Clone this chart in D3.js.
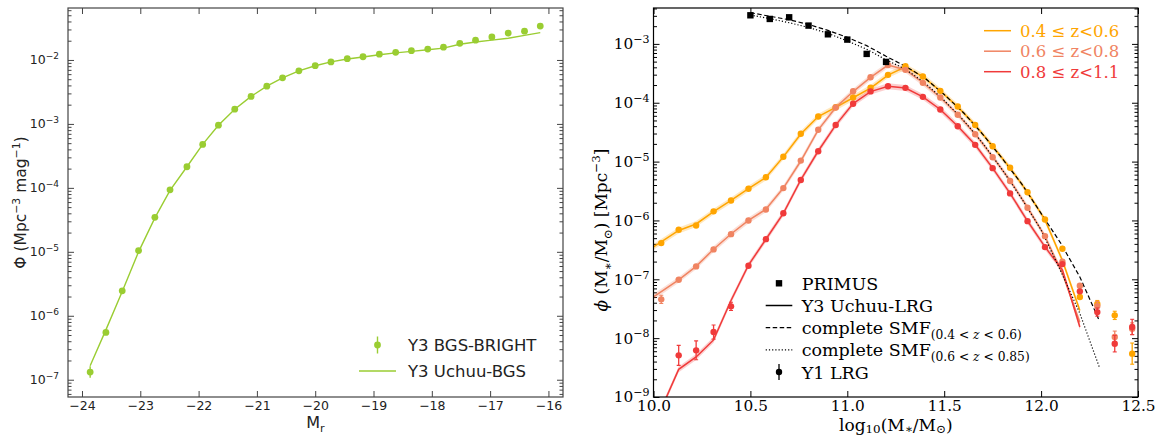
<!DOCTYPE html>
<html>
<head>
<meta charset="utf-8">
<script src="https://cdn.jsdelivr.net/npm/d3@7"></script>
<style>
body{margin:0;background:#fff;}
svg{display:block;}
</style>
</head>
<body>
<div id="main_div"></div>
<script>
let size=[1161,437];
let left={x0:68,x1:563,y0:8,y1:397};
let right={x0:653.5,x1:1138,y0:8,y1:397};
let bgsColor="#9acd32";
let zColors=["#ffa500","#f08462","#f03a3a"];
let zLabels=["0.4 ≤ z<0.6","0.6 ≤ z<0.8","0.8 ≤ z<1.1"];

// left panel: BGS luminosity function (log10 phi)
let mrBins=[-23.86,-23.59,-23.31,-23.03,-22.75,-22.49,-22.20,-21.93,-21.66,-21.38,-21.10,-20.83,-20.56,-20.28,-20.00,-19.73,-19.45,-19.18,-18.90,-18.62,-18.35,-18.07,-17.80,-17.52,-17.25,-16.97,-16.69,-16.41,-16.14];
let bgsLogPhi=[-6.88,-6.26,-5.61,-4.98,-4.46,-4.03,-3.67,-3.32,-3.02,-2.77,-2.57,-2.41,-2.28,-2.17,-2.09,-2.03,-1.98,-1.95,-1.91,-1.88,-1.855,-1.83,-1.80,-1.74,-1.69,-1.64,-1.58,-1.55,-1.47];
let bgsLogErr=[0.09,0.03,0.02,0.01,0.01,0.01,0.01,0.01,0.01,0.01,0.01,0.01,0.01,0.01,0.01,0.01,0.01,0.01,0.01,0.01,0.01,0.01,0.01,0.01,0.01,0.01,0.01,0.01,0.01];
let uchuuBgsLogPhi=[-6.78,-6.22,-5.62,-5.00,-4.47,-4.04,-3.67,-3.32,-3.02,-2.77,-2.57,-2.41,-2.28,-2.17,-2.09,-2.03,-1.985,-1.953,-1.918,-1.89,-1.865,-1.84,-1.815,-1.755,-1.72,-1.69,-1.66,-1.615,-1.573];
let leftXTicks=[-24,-23,-22,-21,-20,-19,-18,-17,-16];
let leftYExps=[-7,-6,-5,-4,-3,-2];

// right panel: LRG stellar mass function (log10 phi)
let lrgMass=[10.04,10.13,10.22,10.31,10.40,10.49,10.58,10.67,10.76,10.85,10.94,11.03,11.12,11.21,11.30,11.39,11.48,11.57,11.66,11.75,11.84,11.93,12.02,12.11,12.20,12.29,12.38,12.47];
let lrgLogPhi04=[-6.385,-6.158,-6.085,-5.845,-5.66,-5.462,-5.265,-4.918,-4.528,-4.234,-4.076,-3.912,-3.745,-3.526,-3.38,-3.555,-3.798,-4.065,-4.377,-4.738,-5.105,-5.52,-5.985,-6.48,-7.30,-7.42,-7.613,-8.263];
let lrgLogPhi06=[-7.341,-7.007,-6.781,-6.492,-6.233,-6.0,-5.815,-5.45,-4.983,-4.46,-4.08,-3.805,-3.567,-3.36,-3.441,-3.662,-3.912,-4.205,-4.535,-4.925,-5.33,-5.785,-6.267,-6.70,-7.109,-7.455,-7.98,-7.84];
let lrgLogPhi08=[null,-8.292,-8.207,-7.896,-7.46,-6.77,-6.318,-5.878,-5.313,-4.823,-4.378,-4.016,-3.807,-3.72,-3.747,-3.9,-4.115,-4.399,-4.715,-5.111,-5.54,-6.012,-6.453,-6.742,-7.205,-7.557,-8.094,-7.81];
let lrgLogErr04=[0.02,0.02,0.02,0.02,0.02,0.02,0.02,0.02,0.02,0.02,0.02,0.02,0.02,0.02,0.02,0.02,0.02,0.02,0.02,0.02,0.02,0.02,0.02,0.03,0.04,0.06,0.07,0.18];
let lrgLogErr06=[0.07,0.02,0.02,0.02,0.02,0.02,0.02,0.02,0.02,0.02,0.02,0.02,0.02,0.02,0.02,0.02,0.02,0.02,0.02,0.02,0.02,0.02,0.02,0.03,0.04,0.08,0.10,0.10];
let lrgLogErr08=[0,0.17,0.16,0.12,0.07,0.02,0.02,0.02,0.02,0.02,0.02,0.02,0.02,0.02,0.02,0.02,0.02,0.02,0.02,0.02,0.02,0.02,0.02,0.03,0.04,0.07,0.14,0.13];
let uchuuMass=[10.0,10.13,10.22,10.31,10.40,10.49,10.58,10.67,10.76,10.85,10.94,11.03,11.12,11.21,11.30,11.39,11.48,11.57,11.66,11.75,11.84,11.93,12.02,12.11,12.20];
let uchuuLogPhi04=[-6.45,-6.17,-6.06,-5.85,-5.66,-5.46,-5.27,-4.92,-4.53,-4.235,-4.08,-3.915,-3.75,-3.53,-3.39,-3.555,-3.80,-4.07,-4.38,-4.74,-5.11,-5.52,-5.99,-6.68,-7.53];
let uchuuLogPhi06=[-7.30,-7.01,-6.78,-6.49,-6.23,-6.00,-5.81,-5.45,-4.99,-4.46,-4.08,-3.81,-3.57,-3.36,-3.44,-3.66,-3.91,-4.20,-4.53,-4.92,-5.32,-5.78,-6.27,-6.90,-7.73];
let uchuuLogPhi08=[-9.5,-8.53,-8.32,-8.03,-7.36,-6.76,-6.32,-5.88,-5.31,-4.82,-4.38,-4.015,-3.81,-3.72,-3.75,-3.90,-4.115,-4.40,-4.715,-5.11,-5.54,-6.01,-6.45,-6.84,-7.81];
let primusMass=[10.5,10.6,10.7,10.8,10.9,11.0,11.1,11.2];
let primusLogPhi=[-2.514,-2.576,-2.548,-2.689,-2.837,-2.927,-3.17,-3.306];
let smfMass=[10.5,10.6,10.7,10.8,10.9,11.0,11.1,11.2,11.3,11.4,11.5,11.6,11.7,11.8,11.9,12.0,12.1,12.2,12.3];
let smfLogPhi04=[-2.47,-2.53,-2.59,-2.67,-2.77,-2.89,-3.03,-3.21,-3.38,-3.58,-3.86,-4.17,-4.54,-4.95,-5.38,-5.88,-6.38,-6.96,-7.70];
let smfLogPhi06=[-2.51,-2.57,-2.64,-2.72,-2.82,-2.95,-3.09,-3.27,-3.43,-3.66,-3.96,-4.30,-4.69,-5.14,-5.63,-6.16,-6.85,-7.58,-8.49];
let rightXTicks=[10.0,10.5,11.0,11.5,12.0,12.5];
let rightYExps=[-9,-8,-7,-6,-5,-4,-3];

let xL,yL,xR,yR,svg;

render();

function render(){
    createSVG();
    drawLeftAxes();
    drawLeftData();
    drawLeftLegend();
    drawRightAxes();
    drawRightData();
    drawRightLegends();
}

function createSVG(){
    svg=d3.select("#main_div")
        .append("svg")
        .attr("width",size[0])
        .attr("height",size[1])
        .attr("id","main_svg");
}

function pow10(v){return Math.pow(10,v);}

/** text with sub/superscripts: parts = [[text, "sub"|"sup"|"it"|"sub it"]] */
function richText(sel,parts,fs,subShift){
    let shift=0, down=(subShift===undefined?0.28:subShift)*fs;
    parts.forEach(function(p){
        let s=p[1]||"";
        let target=s.indexOf("sub")>=0?down:(s.indexOf("sup")>=0?-0.42*fs:0);
        let ts=sel.append("tspan").attr("dy",target-shift).text(p[0]);
        if(s.indexOf("sub")>=0||s.indexOf("sup")>=0) ts.style("font-size",(fs*0.7)+"px");
        if(s.indexOf("it")>=0) ts.style("font-style","italic");
        shift=target;
    });
}

function minorTicks(exps,domain){
    let out=[];
    for(let e=exps[0]-1;e<=exps[exps.length-1]+1;e++){
        for(let k=2;k<10;k++){
            let v=k*pow10(e);
            if(v>=domain[0]&&v<=domain[1]) out.push(v);
        }
    }
    return out;
}

function powerLabels(g,fs){
    g.selectAll(".tick text").each(function(d){
        let t=d3.select(this).text(null);
        t.append("tspan").text("10");
        t.append("tspan").attr("dy",-0.4*fs).style("font-size",(fs*0.72)+"px")
            .text("−"+Math.abs(Math.round(Math.log10(d))));
    });
}

function styleAxis(g,color){
    g.select(".domain").remove();
    g.selectAll("line").attr("stroke",color).attr("stroke-width",1);
}

function drawFrame(box,color){
    svg.append("rect")
        .attr("x",box.x0).attr("y",box.y0)
        .attr("width",box.x1-box.x0).attr("height",box.y1-box.y0)
        .attr("fill","none").attr("stroke",color).attr("stroke-width",1.2);
}

function drawLeftAxes(){
    xL=d3.scaleLinear().domain([-24.24,-15.75]).range([left.x0,left.x1]);
    yL=d3.scaleLog().domain([pow10(-7.27),pow10(-1.1875)]).range([left.y1,left.y0]);
    let font="DejaVu Sans", fs=12.5, axc="#444", txc="#222";
    let minors=minorTicks(leftYExps,yL.domain());

    let xb=svg.append("g").attr("transform","translate(0,"+left.y1+")")
        .call(d3.axisBottom(xL).tickValues(leftXTicks).tickSize(-6).tickPadding(4).tickFormat(d3.format("d")));
    let xt=svg.append("g").attr("transform","translate(0,"+left.y0+")")
        .call(d3.axisTop(xL).tickValues(leftXTicks).tickSize(-6).tickFormat(""));
    let yl=svg.append("g").attr("transform","translate("+left.x0+",0)")
        .call(d3.axisLeft(yL).tickValues(leftYExps.map(pow10)).tickSize(-6).tickPadding(9).tickFormat(d3.format("e")));
    let ylm=svg.append("g").attr("transform","translate("+left.x0+",0)")
        .call(d3.axisLeft(yL).tickValues(minors).tickSize(-3.5).tickFormat(""));
    let yr=svg.append("g").attr("transform","translate("+left.x1+",0)")
        .call(d3.axisRight(yL).tickValues(leftYExps.map(pow10)).tickSize(-6).tickFormat(""));
    let yrm=svg.append("g").attr("transform","translate("+left.x1+",0)")
        .call(d3.axisRight(yL).tickValues(minors).tickSize(-3.5).tickFormat(""));
    [xb,xt,yl,ylm,yr,yrm].forEach(function(g){styleAxis(g,axc);});
    powerLabels(yl,fs);
    svg.selectAll("g text").attr("font-family",font).style("font-size",fs+"px").attr("fill",txc);
    drawFrame(left,axc);

    let xlab=svg.append("text").attr("x",(left.x0+left.x1)/2).attr("y",428)
        .attr("text-anchor","middle").attr("font-family",font).style("font-size","16px").attr("fill",txc);
    richText(xlab,[["M"],["r","sub"]],16);

    let ylab=svg.append("text").attr("transform","translate(26,"+(left.y0+left.y1)/2+") rotate(-90)")
        .attr("text-anchor","middle").attr("font-family",font).style("font-size","15.5px").attr("fill",txc);
    richText(ylab,[["Φ (Mpc"],["−3","sup"],[" mag"],["−1","sup"],[")"]],15.5);
}

function drawLeftData(){
    let g=svg.append("g").attr("id","left_plot");
    let line=d3.line()
        .x(function(d,i){return xL(mrBins[i]);})
        .y(function(d){return yL(pow10(d));});
    g.append("path").datum(uchuuBgsLogPhi)
        .attr("d",line).attr("fill","none").attr("stroke",bgsColor).attr("stroke-width",1.4);

    g.selectAll(".errbar").data(bgsLogPhi).enter().append("line")
        .attr("x1",function(d,i){return xL(mrBins[i]);})
        .attr("x2",function(d,i){return xL(mrBins[i]);})
        .attr("y1",function(d,i){return yL(pow10(d-bgsLogErr[i]));})
        .attr("y2",function(d,i){return yL(pow10(d+bgsLogErr[i]));})
        .attr("stroke",bgsColor).attr("stroke-width",1.4);
    g.selectAll("circle").data(bgsLogPhi).enter().append("circle")
        .attr("cx",function(d,i){return xL(mrBins[i]);})
        .attr("cy",function(d){return yL(pow10(d));})
        .attr("r",3.4).attr("fill",bgsColor);
}

function drawLeftLegend(){
    let font="DejaVu Sans";
    let lg=svg.append("g").attr("id","left_legend");
    lg.append("line").attr("x1",377.5).attr("x2",377.5).attr("y1",336.5).attr("y2",353.5)
        .attr("stroke",bgsColor).attr("stroke-width",1.4);
    lg.append("circle").attr("cx",377.5).attr("cy",345).attr("r",3.4).attr("fill",bgsColor);
    lg.append("line").attr("x1",359).attr("x2",396).attr("y1",371).attr("y2",371)
        .attr("stroke",bgsColor).attr("stroke-width",1.4);
    lg.append("text").attr("x",408).attr("y",351).text("Y3 BGS-BRIGHT");
    lg.append("text").attr("x",408).attr("y",377).text("Y3 Uchuu-BGS");
    lg.selectAll("text").attr("font-family",font).style("font-size","16.5px").attr("fill","#222");
}

function drawRightAxes(){
    xR=d3.scaleLinear().domain([10,12.5]).range([right.x0,right.x1]);
    yR=d3.scaleLog().domain([1e-9,pow10(-2.39)]).range([right.y1,right.y0]);
    let font="DejaVu Serif", fs=15.3, axc="#000";
    let minors=minorTicks(rightYExps,yR.domain());
    let ga=svg.append("g").attr("id","right_axes");

    let xb=ga.append("g").attr("transform","translate(0,"+right.y1+")")
        .call(d3.axisBottom(xR).tickValues(rightXTicks).tickSize(-6).tickPadding(3).tickFormat(d3.format(".1f")));
    let xt=ga.append("g").attr("transform","translate(0,"+right.y0+")")
        .call(d3.axisTop(xR).tickValues(rightXTicks).tickSize(-6).tickFormat(""));
    let yl=ga.append("g").attr("transform","translate("+right.x0+",0)")
        .call(d3.axisLeft(yR).tickValues(rightYExps.map(pow10)).tickSize(-6).tickPadding(4).tickFormat(d3.format("e")));
    let ylm=ga.append("g").attr("transform","translate("+right.x0+",0)")
        .call(d3.axisLeft(yR).tickValues(minors).tickSize(-3.5).tickFormat(""));
    let yr=ga.append("g").attr("transform","translate("+right.x1+",0)")
        .call(d3.axisRight(yR).tickValues(rightYExps.map(pow10)).tickSize(-6).tickFormat(""));
    let yrm=ga.append("g").attr("transform","translate("+right.x1+",0)")
        .call(d3.axisRight(yR).tickValues(minors).tickSize(-3.5).tickFormat(""));
    [xb,xt,yl,ylm,yr,yrm].forEach(function(g){styleAxis(g,axc);});
    powerLabels(yl,fs);
    ga.selectAll("text").attr("font-family",font).style("font-size",fs+"px").attr("fill","#000");

    svg.append("clipPath").attr("id","right_clip").append("rect")
        .attr("x",right.x0).attr("y",right.y0)
        .attr("width",right.x1-right.x0).attr("height",right.y1-right.y0);

    let xlab=svg.append("text").attr("x",(right.x0+right.x1)/2).attr("y",430.5)
        .attr("text-anchor","middle").attr("font-family",font).style("font-size","17px").attr("fill","#000");
    richText(xlab,[["log"],["10","sub"],["(M"],["∗","sub"],["/M"],["⊙","sub"],[")"]],17,0.13);

    let ylab=svg.append("text").attr("transform","translate(607,230) rotate(-90)")
        .attr("text-anchor","middle").attr("font-family",font).style("font-size","17px").attr("fill","#000");
    richText(ylab,[["ϕ","it"],[" (M"],["∗","sub"],["/M"],["⊙","sub"],[") [Mpc"],["−3","sup"],["]"]],17);
}

function drawRightData(){
    let g=svg.append("g").attr("id","right_plot").attr("clip-path","url(#right_clip)");
    let uchuu=[uchuuLogPhi04,uchuuLogPhi06,uchuuLogPhi08];
    let lrg=[lrgLogPhi04,lrgLogPhi06,lrgLogPhi08];
    let errs=[lrgLogErr04,lrgLogErr06,lrgLogErr08];

    let band=d3.area()
        .x(function(d,i){return xR(uchuuMass[i]);})
        .y0(function(d){return yR(pow10(d-0.05));})
        .y1(function(d){return yR(pow10(d+0.05));});
    let line=d3.line()
        .x(function(d,i){return xR(uchuuMass[i]);})
        .y(function(d){return yR(pow10(d));});

    uchuu.forEach(function(s,k){
        g.append("path").datum(s).attr("d",band).attr("fill",zColors[k]).attr("opacity",0.25);
        g.append("path").datum(s).attr("d",line).attr("fill","none")
            .attr("stroke",zColors[k]).attr("stroke-width",1.5);
    });

    let smfLine=d3.line()
        .x(function(d,i){return xR(smfMass[i]);})
        .y(function(d){return yR(pow10(d));});
    g.append("path").datum(smfLogPhi04).attr("d",smfLine).attr("fill","none")
        .attr("stroke","#000").attr("stroke-width",1.2).attr("stroke-dasharray","4.5,2.5");
    g.append("path").datum(smfLogPhi06).attr("d",smfLine).attr("fill","none")
        .attr("stroke","#000").attr("stroke-width",1.2).attr("stroke-dasharray","1.2,2");

    lrg.forEach(function(s,k){
        let pts=s.map(function(v,i){return {m:lrgMass[i],v:v,e:errs[k][i]};})
            .filter(function(d){return d.v!==null;});
        let pg=g.append("g");
        pg.selectAll("line.eb").data(pts).enter().append("line")
            .attr("class","eb")
            .attr("x1",function(d){return xR(d.m);}).attr("x2",function(d){return xR(d.m);})
            .attr("y1",function(d){return yR(pow10(d.v-d.e));})
            .attr("y2",function(d){return yR(pow10(d.v+d.e));})
            .attr("stroke",zColors[k]).attr("stroke-width",1.3);
        [-1,1].forEach(function(sign){
            let cls=sign<0?"caplo":"caphi";
            pg.selectAll("line."+cls).data(pts.filter(function(d){return d.e>0.05;})).enter().append("line")
                .attr("class",cls)
                .attr("x1",function(d){return xR(d.m)-2;}).attr("x2",function(d){return xR(d.m)+2;})
                .attr("y1",function(d){return yR(pow10(d.v+sign*d.e));})
                .attr("y2",function(d){return yR(pow10(d.v+sign*d.e));})
                .attr("stroke",zColors[k]).attr("stroke-width",1.1);
        });
        pg.selectAll("circle").data(pts).enter().append("circle")
            .attr("cx",function(d){return xR(d.m);})
            .attr("cy",function(d){return yR(pow10(d.v));})
            .attr("r",3.2).attr("fill",zColors[k]);
    });

    g.selectAll("rect.primus").data(primusLogPhi).enter().append("rect")
        .attr("class","primus")
        .attr("x",function(d,i){return xR(primusMass[i])-3.2;})
        .attr("y",function(d){return yR(pow10(d))-3.2;})
        .attr("width",6.4).attr("height",6.4).attr("fill","#000");
    drawFrame(right,"#000");
}

function drawRightLegends(){
    let font="DejaVu Serif";
    let lz=svg.append("g").attr("id","z_legend");
    zLabels.forEach(function(lab,k){
        let y=30.7+k*20.5;
        lz.append("line").attr("x1",984).attr("x2",1011).attr("y1",y).attr("y2",y)
            .attr("stroke",zColors[k]).attr("stroke-width",1.5);
        lz.append("text").attr("x",1020).attr("y",y+5.8).text(lab)
            .attr("font-family",font).style("font-size","16.5px").attr("fill",zColors[k]);
    });

    let lb=svg.append("g").attr("id","type_legend");
    let rows=[283.3,305.5,327.7,349.9,372];
    lb.append("rect").attr("x",779-3.2).attr("y",rows[0]-3.2).attr("width",6.4).attr("height",6.4).attr("fill","#000");
    lb.append("line").attr("x1",765.7).attr("x2",792.3).attr("y1",rows[1]).attr("y2",rows[1])
        .attr("stroke","#000").attr("stroke-width",1.5);
    lb.append("line").attr("x1",765.7).attr("x2",792.3).attr("y1",rows[2]).attr("y2",rows[2])
        .attr("stroke","#000").attr("stroke-width",1.2).attr("stroke-dasharray","4.5,2.5");
    lb.append("line").attr("x1",765.7).attr("x2",792.3).attr("y1",rows[3]).attr("y2",rows[3])
        .attr("stroke","#000").attr("stroke-width",1.2).attr("stroke-dasharray","1.2,2");
    lb.append("line").attr("x1",779).attr("x2",779).attr("y1",rows[4]-8).attr("y2",rows[4]+8)
        .attr("stroke","#000").attr("stroke-width",1.3);
    lb.append("circle").attr("cx",779).attr("cy",rows[4]).attr("r",3.2).attr("fill","#000");

    let fs=17.5;
    let t0=lb.append("text").attr("x",801.7).attr("y",rows[0]+6.5);
    richText(t0,[["PRIMUS"]],fs);
    let t1=lb.append("text").attr("x",801.7).attr("y",rows[1]+6.5);
    richText(t1,[["Y3 Uchuu-LRG"]],fs);
    let t2=lb.append("text").attr("x",801.7).attr("y",rows[2]+6.5);
    richText(t2,[["complete SMF"],["(0.4 < ","sub"],["z","sub it"],[" < 0.6)","sub"]],fs);
    let t3=lb.append("text").attr("x",801.7).attr("y",rows[3]+6.5);
    richText(t3,[["complete SMF"],["(0.6 < ","sub"],["z","sub it"],[" < 0.85)","sub"]],fs);
    let t4=lb.append("text").attr("x",801.7).attr("y",rows[4]+6.5);
    richText(t4,[["Y1 LRG"]],fs);
    lb.selectAll("text").attr("font-family",font).style("font-size",fs+"px").attr("fill","#000");
    lb.selectAll("tspan").filter(function(){return this.style.fontSize;})
        .style("font-size",(fs*0.7)+"px");
}
</script>
</body>
</html>
